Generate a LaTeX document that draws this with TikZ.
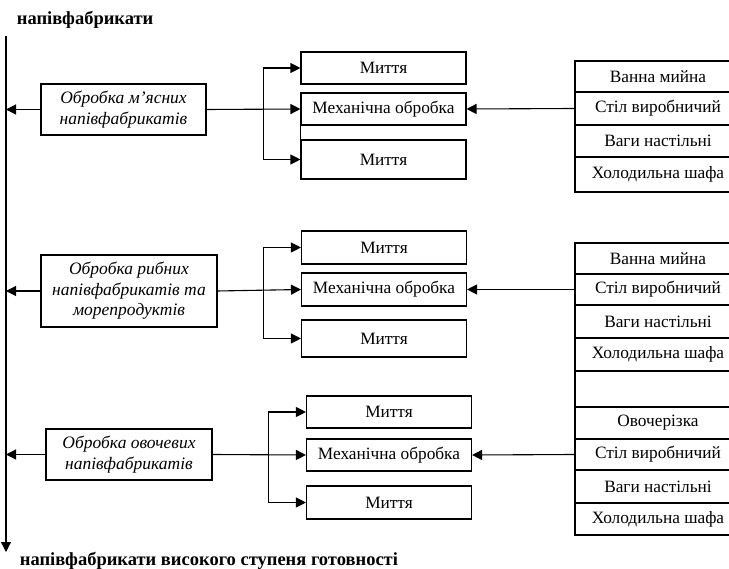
\documentclass[tikz,border=0pt]{standalone}
\usepackage{fontspec}
\setmainfont{Liberation Serif}
\usetikzlibrary{arrows.meta}
\newcommand{\txtsize}{\fontsize{17.3}{20}\selectfont}
\newcommand{\lblsize}{\fontsize{18.5}{21}\selectfont}
\tikzset{
  procbox/.style={draw,align=center,font=\fontsize{17.5}{20.5}\selectfont\itshape,inner sep=0},
  opbox/.style={draw,font=\txtsize,inner sep=0,minimum width=165pt},
  cell/.style={draw,font=\txtsize,inner sep=0,minimum width=166pt},
  flow/.style={-{Triangle[length=10pt,width=10pt]}},
}
\begin{document}
\begin{tikzpicture}[x=1pt,y=-1pt,line width=1.1pt]
    \useasboundingbox (0,0) rectangle (729,569);
    \clip (0,0) rectangle (729,569);

    % main line
    \coordinate (top) at (6,36);
    \coordinate (bot) at (6,552);
    \draw [flow] (top) -- (bot);
    \node(lbltop)[anchor=west,font=\lblsize\bfseries] at (13,20) {напівфабрикати};
    \node(lblbot)[anchor=west,font=\lblsize\bfseries] at (16,561) {напівфабрикати високого ступеня готовності};

    % meat
    \node(L1)[procbox,minimum width=165pt,minimum height=51pt] at (123.5,109.5) {Обробка м’ясних\\напівфабрикатів};
    \node(W1a)[opbox,minimum height=32pt] at (383.5,68) {Миття};
    \node(M1)[opbox,minimum height=32pt] at (383.5,109) {Механічна обробка};
    \node(W1b)[opbox,minimum height=39pt] at (383.5,159.5) {Миття};
    \draw (M1.south west) -- (W1b.north west);
    \node(T1a)[cell,minimum height=31pt] at (658,76.5) {Ванна мийна};
    \node(T1b)[cell,minimum height=33pt] at (658,108.5) {Стіл виробничий};
    \node(T1c)[cell,minimum height=32pt] at (658,141) {Ваги настільні};
    \node(T1d)[cell,minimum height=35pt] at (658,174.5) {Холодильна шафа};

    \draw [flow] (L1.west) -- (L1.west -| top);
    \draw [flow] (L1.east) -- (M1.west);
    \coordinate (b1) at ([xshift=57pt]L1.east);
    \draw [flow] (b1) |- (W1a.west);
    \draw [flow] (b1) |- (W1b.west);
    \draw [flow] (T1b.west) -- (M1.east);

    % fish
    \node(L2)[procbox,minimum width=176pt,minimum height=72pt] at (129,291) {Обробка рибних\\напівфабрикатів та\\морепродуктів};
    \node(W2a)[opbox,minimum height=33pt] at (384,247.5) {Миття};
    \node(M2)[opbox,minimum height=33pt] at (384,289.5) {Механічна обробка};
    \node(W2b)[opbox,minimum height=37pt] at (384,338.5) {Миття};
    \node(T2a)[cell,minimum height=31pt] at (658,258.5) {Ванна мийна};
    \node(T2b)[cell,minimum height=31pt] at (658,289.5) {Стіл виробничий};
    \node(T2c)[cell,minimum height=33pt] at (658,321.5) {Ваги настільні};
    \node(T2d)[cell,minimum height=33pt] at (658,354.5) {Холодильна шафа};
    \node(T2e)[cell,minimum height=36pt] at (658,389) {};

    \draw [flow] (L2.west) -- (L2.west -| top);
    \draw [flow] (L2.east) -- (M2.west);
    \coordinate (b2) at ([xshift=46pt]L2.east);
    \draw [flow] (b2) |- (W2a.west);
    \draw [flow] (b2) |- (W2b.west);
    \draw [flow] (T2b.west) -- (M2.east);

    % vegetables
    \node(L3)[procbox,minimum width=166pt,minimum height=51pt] at (129,454.5) {Обробка овочевих\\напівфабрикатів};
    \node(W3a)[opbox,minimum height=32pt] at (389,412) {Миття};
    \node(M3)[opbox,minimum height=32pt] at (389,455) {Механічна обробка};
    \node(W3b)[opbox,minimum height=33pt] at (389,502.5) {Миття};
    \node(T2f)[cell,minimum height=32pt] at (658,423) {Овочерізка};
    \node(T2g)[cell,minimum height=31pt] at (658,454.5) {Стіл виробничий};
    \node(T2h)[cell,minimum height=33pt] at (658,486.5) {Ваги настільні};
    \node(T2i)[cell,minimum height=32pt] at (658,519) {Холодильна шафа};

    \draw [flow] (L3.west) -- (L3.west -| top);
    \draw [flow] (L3.east) -- (M3.west);
    \coordinate (b3) at ([xshift=56pt]L3.east);
    \draw [flow] (b3) |- (W3a.west);
    \draw [flow] (b3) |- (W3b.west);
    \draw [flow] (T2g.west) -- (M3.east);
\end{tikzpicture}
\end{document}
